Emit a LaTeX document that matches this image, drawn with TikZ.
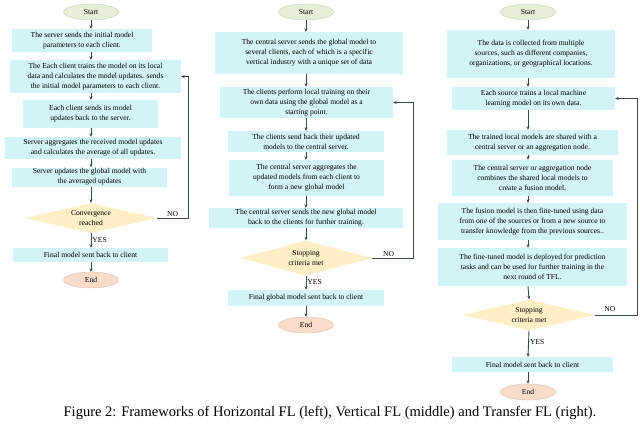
\documentclass[tikz,border=0pt]{standalone}
\usepackage{fontspec}
\setmainfont{Liberation Serif}
\usetikzlibrary{shapes.geometric,arrows.meta}
\definecolor{boxc}{HTML}{D2F3F8}
\definecolor{startc}{HTML}{E6EFD6}
\definecolor{endc}{HTML}{FBDCCB}
\definecolor{decc}{HTML}{FEEFC6}
\definecolor{linec}{HTML}{3A4654}
\begin{document}
\begin{tikzpicture}[x=1pt,y=-1pt,
  every node/.style={font=\fontsize{7.6}{10}\selectfont, align=center, inner sep=1pt},
  box/.style={rectangle, fill=boxc, draw=none},
  st/.style={ellipse, fill=startc, draw=startc!70!gray, minimum width=55pt, minimum height=16pt},
  en/.style={ellipse, fill=endc, draw=endc!70!gray, minimum width=55pt, minimum height=16pt},
  dec/.style={diamond, aspect=4.3, fill=decc, draw=none, inner sep=0pt},
  arr/.style={draw=linec, line width=0.9pt, -{Stealth[length=3.5pt,width=3pt]}},
  lab/.style={font=\fontsize{7.6}{9}\selectfont}]
\clip (0,0) rectangle (640,424);
\fill[white] (0,0) rectangle (640,424);
% ---------- left ----------
\node[st] (ls) at (91,12) {Start};
\node[box, minimum width=140pt, minimum height=23pt] (l1) at (82,40.5) {The server sends the initial model\\parameters to each client.};
\node[box, minimum width=171pt, minimum height=33pt] (l2) at (95.5,76.5) {The Each client trains the model on its local\\data and calculates the model updates. sends\\the initial model parameters to each client.};
\node[box, minimum width=135pt, minimum height=28pt] (l3) at (90.5,114) {Each client sends its model\\updates back to the server.};
\node[box, minimum width=176pt, minimum height=22pt] (l4) at (93,148) {Server aggregates the received model updates\\and calculates the average of all updates.};
\node[box, minimum width=155pt, minimum height=19pt] (l5) at (89.5,177) {Server updates the global model with\\the averaged updates};
\node[dec, minimum width=132pt, minimum height=30pt] (ld) at (91,218) {Convergence\\reached};
\node[box, minimum width=155pt, minimum height=14pt] (lf) at (90.5,255) {Final model sent back to client};
\node[en] (le) at (91,280) {End};
\draw[arr] (ls) -- (l1.north -| ls);
\draw[arr] (l1.south -| ls) -- (l2.north -| ls);
\draw[arr] (l2.south -| ls) -- (l3.north -| ls);
\draw[arr] (l3.south -| ls) -- (l4.north -| ls);
\draw[arr] (l4.south -| ls) -- (l5.north -| ls);
\draw[arr] (l5.south -| ls) -- (ld.north);
\draw[arr] (ld.south) -- node[lab, right, pos=0.45] {YES} (lf.north -| ls);
\draw[arr] (lf.south -| ls) -- (le);
\draw[arr] (ld.east) -- node[lab, above, pos=0.5] {NO} ++(31,0) |- (l2.east);
% ---------- middle ----------
\node[st] (ms) at (306,12) {Start};
\node[box, minimum width=188pt, minimum height=42pt] (m1) at (309,53) {The central server sends the global model to\\several clients, each of which is a specific\\vertical industry with a unique set of data};
\node[box, minimum width=173pt, minimum height=31pt] (m2) at (306.5,102.5) {The clients perform local training on their\\own data using the global model as a\\starting point.};
\node[box, minimum width=156pt, minimum height=21pt] (m3) at (306,141.5) {The clients send back their updated\\models to the central server.};
\node[box, minimum width=155pt, minimum height=36pt] (m4) at (306.5,178) {The central server aggregates the\\updated models from each client to\\form a new global model};
\node[box, minimum width=194pt, minimum height=20pt] (m5) at (306,218) {The central server sends the new global model\\back to the clients for further training.};
\node[dec, minimum width=132pt, minimum height=35pt] (md) at (306,258) {Stopping\\criteria met};
\node[box, minimum width=156pt, minimum height=16pt] (mf) at (306,298) {Final global model sent back to client};
\node[en] (me) at (306,325) {End};
\draw[arr] (ms) -- (m1.north -| ms);
\draw[arr] (m1.south -| ms) -- (m2.north -| ms);
\draw[arr] (m2.south -| ms) -- (m3.north -| ms);
\draw[arr] (m3.south -| ms) -- (m4.north -| ms);
\draw[arr] (m4.south -| ms) -- (m5.north -| ms);
\draw[arr] (m5.south -| ms) -- (md.north);
\draw[arr] (md.south) -- node[lab, right, pos=0.45] {YES} (mf.north -| ms);
\draw[arr] (mf.south -| ms) -- (me);
\draw[arr] (md.east) -- node[lab, above, pos=0.4] {NO} ++(41,0) |- (m2.east);
% ---------- right ----------
\node[st] (rs) at (528,12) {Start};
\node[box, minimum width=168pt, minimum height=48pt] (r1) at (531,54) {The data is collected from multiple\\sources, such as different companies,\\organizations, or geographical locations.};
\node[box, minimum width=163pt, minimum height=23pt] (r2) at (533.5,98.5) {Each source trains a local machine\\learning model on its own data.};
\node[box, minimum width=171pt, minimum height=25pt] (r3) at (532.5,142.5) {The trained local models are shared with a\\central server or an aggregation node.};
\node[box, minimum width=161pt, minimum height=36pt] (r4) at (532.5,178) {The central server or aggregation node\\combines the shared local models to\\create a fusion model.};
\node[box, minimum width=189pt, minimum height=37pt] (r5) at (532.5,221.5) {The fusion model is then fine-tuned using data\\from one of the sources or from a new source to\\transfer knowledge from the previous sources..};
\node[box, minimum width=189pt, minimum height=38pt] (r6) at (532.5,267) {The fine-tuned model is deployed for prediction\\tasks and can be used for further training in the\\next round of TFL.};
\node[dec, minimum width=132pt, minimum height=31pt] (rd) at (529,315) {Stopping\\criteria met};
\node[box, minimum width=161pt, minimum height=15pt] (rf) at (532.5,364.5) {Final model sent back to client};
\node[en] (re) at (528,392) {End};
\draw[arr] (rs) -- (r1.north -| rs);
\draw[arr] (r1.south -| rs) -- (r2.north -| rs);
\draw[arr] (r2.south -| rs) -- (r3.north -| rs);
\draw[arr] (r3.south -| rs) -- (r4.north -| rs);
\draw[arr] (r4.south -| rs) -- (r5.north -| rs);
\draw[arr] (r5.south -| rs) -- (r6.north -| rs);
\draw[arr] (r6.south -| rs) -- (rd.north);
\draw[arr] (rd.south) -- node[lab, right, pos=0.45] {YES} (rf.north -| rs);
\draw[arr] (rf.south -| rs) -- (re);
\draw[arr] (rd.east) -- node[lab, above, pos=0.35, yshift=2pt] {NO} ++(42,0) |- (r2.east);
% caption
\node[font=\fontsize{14.5}{16}\selectfont, anchor=north, inner sep=0pt] (cap) at (330,406) {Figure 2: Frameworks of Horizontal FL (left), Vertical FL (middle) and Transfer FL (right).};
\end{tikzpicture}
\end{document}
